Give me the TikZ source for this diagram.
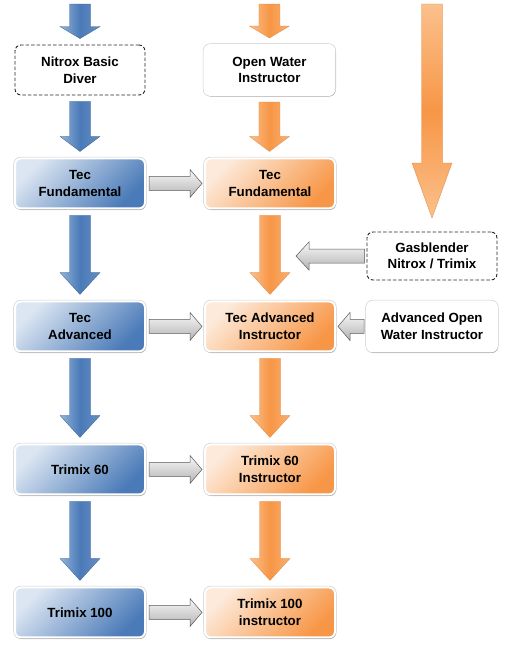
\documentclass[tikz,border=0pt]{standalone}
\usepackage{fontspec}
\newfontfamily\coursefont{Liberation Sans}
\usetikzlibrary{positioning, calc, shadows}

\definecolor{blueLight}{HTML}{DCE6F2}
\definecolor{blueDark}{HTML}{4A7AB8}
\definecolor{blueArrowL}{HTML}{95B3D7}
\definecolor{orangeLight}{HTML}{FDEADA}
\definecolor{orangeDark}{HTML}{F79646}
\definecolor{orangeArrowL}{HTML}{FBC08C}

% block arrows between two anchors: from, to, head length, style
\newcommand{\downblock}[4]{%
  \path[#4] let \p1=($(#1)+(0,6)$), \p2=($(#2)+(0,-6)$) in
    (\x1-10.5pt,\y1) -- (\x1+10.5pt,\y1) -- (\x1+10.5pt,\y2+#3) -- (\x1+20pt,\y2+#3)
    -- (\x1,\y2) -- (\x1-20pt,\y2+#3) -- (\x1-10.5pt,\y2+#3) -- cycle;}
\newcommand{\rightblock}[4]{%
  \path[#4] let \p1=($(#1)+(3,0)$), \p2=($(#2)+(-2,0)$) in
    (\x1,\y1+7pt) -- (\x2-#3,\y1+7pt) -- (\x2-#3,\y1+14pt) -- (\x2,\y1)
    -- (\x2-#3,\y1-14pt) -- (\x2-#3,\y1-7pt) -- (\x1,\y1-7pt) -- cycle;}
\newcommand{\leftblock}[4]{%
  \path[#4] let \p1=($(#1)+(-2,0)$), \p2=($(#2)+(2,0)$) in
    (\x1,\y1+7pt) -- (\x2+#3,\y1+7pt) -- (\x2+#3,\y1+14pt) -- (\x2,\y1)
    -- (\x2+#3,\y1-14pt) -- (\x2+#3,\y1-7pt) -- (\x1,\y1-7pt) -- cycle;}

\begin{document}
\begin{tikzpicture}[x=1pt, y=-1pt,
    box/.style={rectangle, rounded corners=6pt, minimum width=130pt, minimum height=50pt,
      align=center, font=\coursefont\bfseries\fontsize{13.3}{16.5}\selectfont,
      draw=white, line width=2pt, preaction={draw=black!20, line width=3.2pt},
      drop shadow={shadow xshift=1pt, shadow yshift=-1.5pt, opacity=0.2, fill=black}},
    bluebox/.style={box, top color=blueLight, bottom color=blueDark, shading angle=45},
    orangebox/.style={box, top color=orangeLight, bottom color=orangeDark, shading angle=45},
    whitebox/.style={box, fill=white},
    dashbox/.style={rectangle, rounded corners=6pt, minimum width=130pt, minimum height=50pt,
      align=center, font=\coursefont\bfseries\fontsize{13.3}{16.5}\selectfont,
      draw=black!85, dash pattern=on 3.5pt off 2pt, line width=0.9pt, fill=white},
    bluearrow/.style={left color=blueArrowL, right color=blueDark!85!white, middle color=blueDark,
      draw=blueDark!80!black, line width=0.3pt},
    orangearrow/.style={left color=orangeArrowL, right color=orangeArrowL!60!orangeDark,
      middle color=orangeDark, draw=orangeDark!90!black, line width=0.3pt},
    bigarrow/.style={top color=orangeArrowL, bottom color=orangeArrowL, middle color=orangeDark,
      draw=orangeDark!90!black, line width=0.3pt},
    grayarrow/.style={top color=gray!5, bottom color=gray!60, draw=gray!70!black, line width=0.5pt}]
  \useasboundingbox (0,0) rectangle (520,654);

  % left column
  \node[dashbox] (nbd) at (80,70) {Nitrox Basic\\Diver};
  \node[bluebox, below=62pt of nbd] (tfb) {Tec\\Fundamental};
  \node[bluebox, below=91pt of tfb] (tab) {Tec\\Advanced};
  \node[bluebox, below=91pt of tab] (t60) {Trimix 60};
  \node[bluebox, below=91pt of t60] (t100) {Trimix 100};

  % middle column
  \node[whitebox, right=58pt of nbd] (owi) {Open Water\\Instructor};
  \node[orangebox, right=58pt of tfb] (tfo) {Tec\\Fundamental};
  \node[orangebox, right=58pt of tab] (tai) {Tec Advanced\\Instructor};
  \node[orangebox, right=58pt of t60] (t60i) {Trimix 60\\Instructor};
  \node[orangebox, right=58pt of t100] (t100i) {Trimix 100\\instructor};

  % right column
  \node[dashbox, minimum height=48pt] (gas) at (432,256) {Gasblender\\Nitrox / Trimix};
  \node[whitebox, right=30pt of tai] (aowi) {Advanced Open\\Water Instructor};

  \coordinate (topL) at (80,-2);
  \coordinate (topM) at ($(owi.north |- topL)$);
  \coordinate (topR) at (432,-2);
  \coordinate (bigend) at (432,224);
  \coordinate (gasin) at (294,256);

  % down arrows
  \downblock{topL}{nbd.north}{12pt}{bluearrow}
  \downblock{nbd.south}{tfb.north}{15pt}{bluearrow}
  \downblock{tfb.south}{tab.north}{22pt}{bluearrow}
  \downblock{tab.south}{t60.north}{22pt}{bluearrow}
  \downblock{t60.south}{t100.north}{22pt}{bluearrow}

  \downblock{topM}{owi.north}{12pt}{orangearrow}
  \downblock{owi.south}{tfo.north}{15pt}{orangearrow}
  \downblock{tfo.south}{tai.north}{22pt}{orangearrow}
  \downblock{tai.south}{t60i.north}{22pt}{orangearrow}
  \downblock{t60i.south}{t100i.north}{22pt}{orangearrow}

  \downblock{topR}{bigend}{55pt}{bigarrow}

  % side arrows
  \rightblock{tfb.east}{tfo.west}{12pt}{grayarrow}
  \rightblock{tab.east}{tai.west}{12pt}{grayarrow}
  \rightblock{t60.east}{t60i.west}{12pt}{grayarrow}
  \rightblock{t100.east}{t100i.west}{12pt}{grayarrow}
  \leftblock{gas.west}{gasin}{13pt}{grayarrow}
  \leftblock{aowi.west}{tai.east}{12pt}{grayarrow}
\end{tikzpicture}
\end{document}
